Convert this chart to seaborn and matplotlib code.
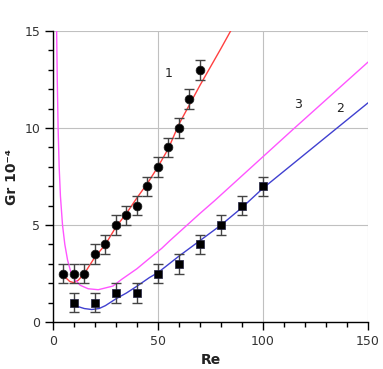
import numpy as np
import pandas as pd
import matplotlib
matplotlib.use('Agg')
import matplotlib.pyplot as plt
from matplotlib.ticker import MultipleLocator
import seaborn as sns

# measured points, series 1 (circles) and 2 (squares)
re1 = [5, 10, 15, 20, 25, 30, 35, 40, 45, 50, 55, 60, 65, 70]
gr1 = [2.5, 2.5, 2.5, 3.5, 4, 5, 5.5, 6, 7, 8, 9, 10, 11.5, 13]
re2 = [10, 20, 30, 40, 50, 60, 70, 80, 90, 100]
gr2 = [1, 1, 1.5, 1.5, 2.5, 3, 4, 5, 6, 7]
err = 0.5

# curves
c1_re = [4.1, 6, 8, 10, 12, 15, 20, 25, 30, 35, 40, 45, 50, 55, 60, 70, 80, 84.6]
c1_gr = [2.54, 2.3, 2.1, 2.03, 2.15, 2.5, 3.35, 4.0, 4.9, 5.6, 6.4, 7.15, 8.0, 8.95, 10.2, 12.2, 14.1, 15.0]
c2_re = [10, 12, 15, 18.5, 22, 25, 30, 35, 40, 46, 50, 60, 70, 80, 90, 100, 125, 150]
c2_gr = [1.0, 0.8, 0.7, 0.65, 0.7, 0.85, 1.2, 1.5, 1.85, 2.3, 2.55, 3.4, 4.2, 5.0, 5.9, 6.9, 9.1, 11.3]
c3_re = [1.8, 2.1, 2.5, 3, 3.6, 4.6, 5.7, 7, 8.5, 10.5, 13, 16.8, 21.6, 28.6, 32.7, 40, 45, 51.8, 55.7, 70, 77, 115, 150]
c3_gr = [15, 12.5, 10, 8, 6.5, 5, 4.0, 3.2, 2.6, 2.2, 1.9, 1.72, 1.67, 1.86, 2.2, 2.75, 3.2, 3.8, 4.2, 5.6, 6.26, 10, 13.4]

sns.set_style('white')
plt.rcParams['font.family'] = ['DejaVu Sans']

fig = plt.figure(figsize=(3.83, 3.69), dpi=100)
ax = fig.add_axes([0.138, 0.127, 0.823, 0.789])

ax.grid(True, which='major', color='#c0c0c0', linewidth=0.8)
ax.set_axisbelow(True)

sns.lineplot(x=c1_re, y=c1_gr, sort=False, color='#ff4040', linewidth=1.0, ax=ax)
sns.lineplot(x=c2_re, y=c2_gr, sort=False, color='#4040d0', linewidth=1.0, ax=ax)
sns.lineplot(x=c3_re, y=c3_gr, sort=False, color='#ff55ff', linewidth=1.0, ax=ax)

ax.errorbar(re1, gr1, yerr=err, fmt='none', ecolor='#444444', elinewidth=1, capsize=3.5, capthick=1)
ax.errorbar(re2, gr2, yerr=err, fmt='none', ecolor='#444444', elinewidth=1, capsize=3.5, capthick=1)
sns.scatterplot(x=re1, y=gr1, marker='o', s=40, color='black', edgecolor='#202020', linewidth=0.5, ax=ax, zorder=3)
sns.scatterplot(x=re2, y=gr2, marker='s', s=40, color='black', edgecolor='#202040', linewidth=0.5, ax=ax, zorder=3)

ax.text(55, 12.8, '1', fontsize=9, color='#222222', ha='center', va='center')
ax.text(116.7, 11.2, '3', fontsize=9, color='#222222', ha='center', va='center')
ax.text(136.7, 11.0, '2', fontsize=9, color='#222222', ha='center', va='center')

ax.set_xlim(0, 150)
ax.set_ylim(0, 15)
ax.xaxis.set_major_locator(MultipleLocator(50))
ax.xaxis.set_minor_locator(MultipleLocator(10))
ax.yaxis.set_major_locator(MultipleLocator(5))
ax.yaxis.set_minor_locator(MultipleLocator(1))
ax.tick_params(which='major', direction='out', length=6, width=1, color='black',
               labelsize=9, labelcolor='#333333', pad=3, bottom=True, left=True)
ax.tick_params(which='minor', direction='out', length=3.5, width=1, color='black',
               bottom=True, left=True)

for s in ['top', 'right']:
    ax.spines[s].set_visible(False)
for s in ['left', 'bottom']:
    ax.spines[s].set_color('black')
    ax.spines[s].set_linewidth(1)

ax.set_xlabel('Re', fontsize=10, fontweight='bold', color='#222222')
ax.set_ylabel('Gr 10⁻⁴', fontsize=10, fontweight='bold', color='#222222')

fig.savefig('out.png', dpi=100)
